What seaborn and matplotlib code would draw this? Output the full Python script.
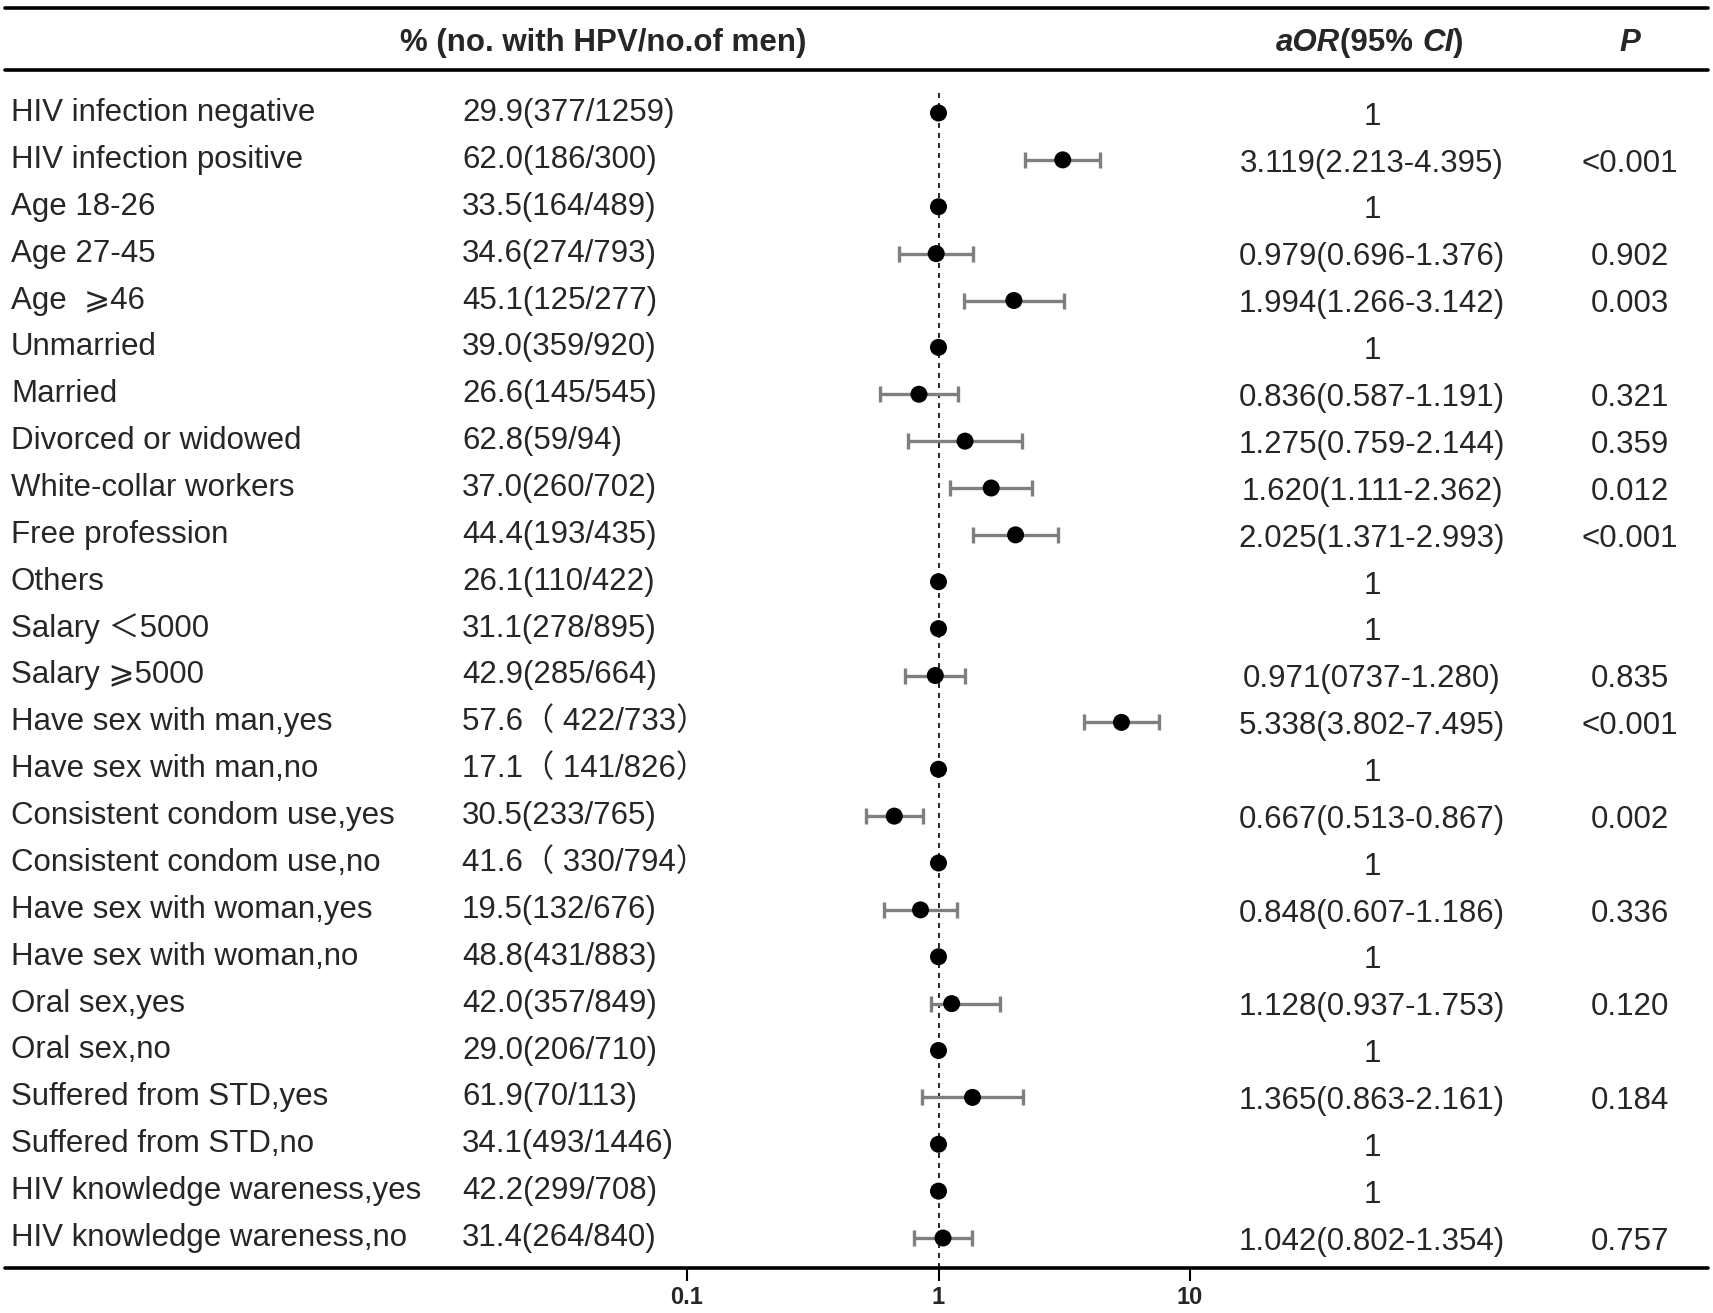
import numpy as np
import pandas as pd
import seaborn as sns
import matplotlib.pyplot as plt
import matplotlib.transforms as mtransforms
from matplotlib.lines import Line2D

# Data
labels = [
    "HIV infection negative", "HIV infection positive", "Age 18-26", "Age 27-45",
    "Age  \u2a7e46", "Unmarried", "Married", "Divorced or widowed",
    "White-collar workers", "Free profession", "Others", "Salary \uff1c5000",
    "Salary \u2a7e5000", "Have sex with man,yes", "Have sex with man,no",
    "Consistent condom use,yes", "Consistent condom use,no",
    "Have sex with woman,yes", "Have sex with woman,no", "Oral sex,yes",
    "Oral sex,no", "Suffered from STD,yes", "Suffered from STD,no",
    "HIV knowledge wareness,yes", "HIV knowledge wareness,no",
]
prevalence = [
    "29.9(377/1259)", "62.0(186/300)", "33.5(164/489)", "34.6(274/793)",
    "45.1(125/277)", "39.0(359/920)", "26.6(145/545)", "62.8(59/94)",
    "37.0(260/702)", "44.4(193/435)", "26.1(110/422)", "31.1(278/895)",
    "42.9(285/664)", "57.6\uff08 422/733\uff09", "17.1\uff08 141/826\uff09",
    "30.5(233/765)", "41.6\uff08 330/794\uff09", "19.5(132/676)", "48.8(431/883)",
    "42.0(357/849)", "29.0(206/710)", "61.9(70/113)", "34.1(493/1446)",
    "42.2(299/708)", "31.4(264/840)",
]
aor = [1, 3.119, 1, 0.979, 1.994, 1, 0.836, 1.275, 1.620, 2.025, 1, 1, 0.971,
       5.338, 1, 0.667, 1, 0.848, 1, 1.128, 1, 1.365, 1, 1, 1.042]
ci_low = [np.nan, 2.213, np.nan, 0.696, 1.266, np.nan, 0.587, 0.759, 1.111, 1.371,
          np.nan, np.nan, 0.737, 3.802, np.nan, 0.513, np.nan, 0.607, np.nan, 0.937,
          np.nan, 0.863, np.nan, np.nan, 0.802]
ci_high = [np.nan, 4.395, np.nan, 1.376, 3.142, np.nan, 1.191, 2.144, 2.362, 2.993,
           np.nan, np.nan, 1.280, 7.495, np.nan, 0.867, np.nan, 1.186, np.nan, 1.753,
           np.nan, 2.161, np.nan, np.nan, 1.354]
aor_text = [
    "1", "3.119(2.213-4.395)", "1", "0.979(0.696-1.376)", "1.994(1.266-3.142)", "1",
    "0.836(0.587-1.191)", "1.275(0.759-2.144)", "1.620(1.111-2.362)",
    "2.025(1.371-2.993)", "1", "1", "0.971(0737-1.280)", "5.338(3.802-7.495)", "1",
    "0.667(0.513-0.867)", "1", "0.848(0.607-1.186)", "1", "1.128(0.937-1.753)", "1",
    "1.365(0.863-2.161)", "1", "1", "1.042(0.802-1.354)",
]
p_text = ["", "<0.001", "", "0.902", "0.003", "", "0.321", "0.359", "0.012", "<0.001",
          "", "", "0.835", "<0.001", "", "0.002", "", "0.336", "", "0.120", "",
          "0.184", "", "", "0.757"]
xticks = [0.1, 1, 10]
xticklabels = ["0.1", "1", "10"]

df = pd.DataFrame({"label": labels, "aor": aor, "lo": ci_low, "hi": ci_high})
df["row"] = np.arange(len(df))

sns.set_theme(style="white")
plt.rcParams['font.family'] = ['Liberation Sans', 'DejaVu Sans', 'Noto Sans CJK SC']

W, H = 1713, 1313
fig = plt.figure(figsize=(W / 100, H / 100), dpi=100)

# forest axes: x from 0.1 (px 687) to 10 (px 1190); y from px 88 to 1268
x0, x1 = 687, 1190
y_top, y_bot = 88, 1268
ax = fig.add_axes([x0 / W, 1 - y_bot / H, (x1 - x0) / W, (y_bot - y_top) / H])
ax.set_xscale("log")
ax.set_xlim(0.1, 10)
row_h = (1238 - 113) / 24
ax.set_ylim(24 + (y_bot - 1238) / row_h, -(113 - y_top) / row_h)

ax.axvline(1, color="black", lw=1.2, ls=(0, (3, 3)), zorder=1)
ci = df.dropna()
ax.errorbar(ci["aor"], ci["row"],
            xerr=[ci["aor"] - ci["lo"], ci["hi"] - ci["aor"]],
            fmt="none", ecolor="#7f7f7f", elinewidth=2.4, capsize=6, capthick=2.4,
            zorder=2)
sns.scatterplot(data=df, x="aor", y="row", color="black", s=150, edgecolor="none",
                ax=ax, zorder=3, legend=False)

for s in ax.spines.values():
    s.set_visible(False)
ax.set_yticks([])
ax.set_xlabel("")
ax.set_ylabel("")
ax.set_xticks(xticks)
ax.set_xticklabels(xticklabels, fontsize=17, fontweight="bold")
ax.minorticks_off()
ax.tick_params(axis="x", direction="out", length=9, width=1.5, color="black",
               pad=4, bottom=True)
ax.patch.set_alpha(0)

# horizontal rules
for yy in [8, 70, y_bot]:
    fig.add_artist(Line2D([5 / W, 1708 / W], [1 - yy / H, 1 - yy / H],
                          color="black", lw=2.6, transform=fig.transFigure))

# header
fs = 22.5
hy = 1 - 43 / H
fig.text(603 / W, hy, "% (no. with HPV/no.of men)", fontsize=fs, fontweight="bold",
         ha="center", va="center")
fig.text(1630 / W, hy, "P", fontsize=fs, fontweight="bold", style="italic",
         ha="center", va="center")

# aOR(95% CI) header built from pieces with mixed italics
pieces = [("aOR", "italic"), ("(95% ", "normal"), ("CI", "italic"), (")", "normal")]
renderer = fig.canvas.get_renderer()
objs = []
for txt, st in pieces:
    t = fig.text(0, hy, txt, fontsize=fs, fontweight="bold", style=st,
                 ha="left", va="center")
    objs.append(t)
widths = [t.get_window_extent(renderer).width for t in objs]
xpos = 1370 - sum(widths) / 2
for t, w in zip(objs, widths):
    t.set_x(xpos / W)
    xpos += w

# table columns
trans = mtransforms.blended_transform_factory(fig.transFigure, ax.transData)
for i in range(len(labels)):
    ax.text(11 / W, i, labels[i], transform=trans, fontsize=fs, ha="left",
            va="center", clip_on=False)
    ax.text(462 / W, i, prevalence[i], transform=trans, fontsize=fs, ha="left",
            va="center", clip_on=False)
    ax.text(1372 / W, i + 0.08, aor_text[i], transform=trans, fontsize=fs,
            ha="center", va="center", clip_on=False)
    ax.text(1630 / W, i + 0.08, p_text[i], transform=trans, fontsize=fs,
            ha="center", va="center", clip_on=False)

fig.savefig("out.png", dpi=100)
